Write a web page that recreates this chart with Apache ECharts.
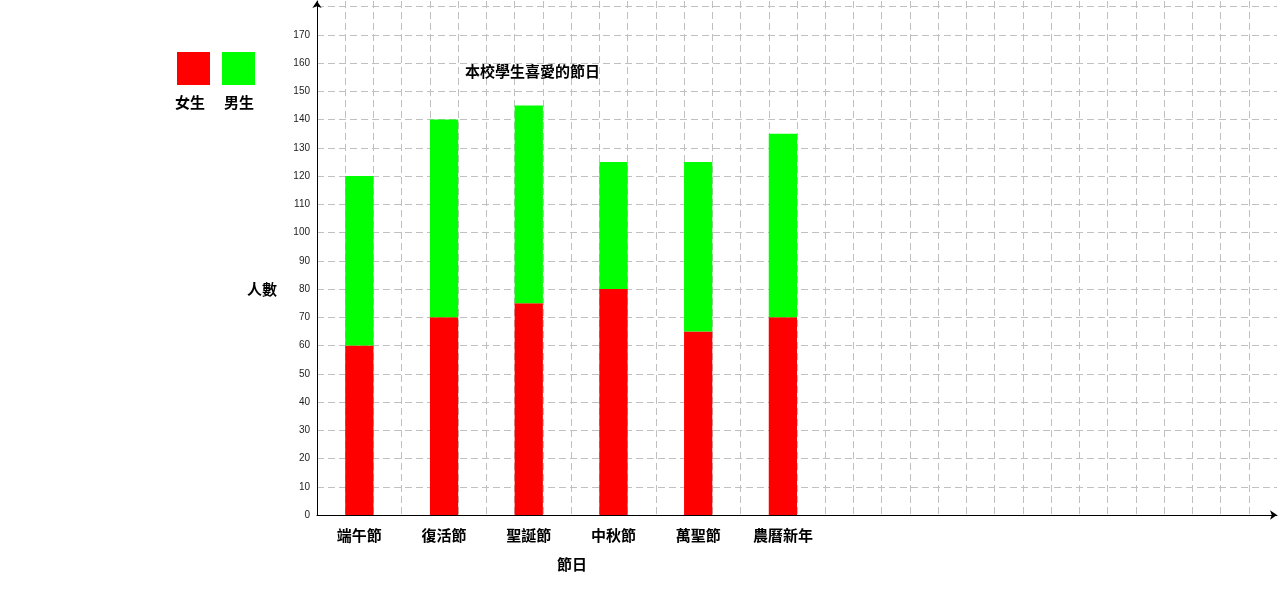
<!DOCTYPE html>
<html><head><meta charset="utf-8">
<script src="https://cdn.jsdelivr.net/npm/echarts@6/dist/echarts.min.js"></script>
<style>html,body{margin:0;padding:0;background:#fff}#c{width:1280px;height:600px}</style>
</head><body><div id="c"></div>
<script>
const festivals = ['端午節', '復活節', '聖誕節', '中秋節', '萬聖節', '農曆新年'];
const girls = [60, 70, 75, 80, 65, 70];
const boys = [60, 70, 70, 45, 60, 65];
const seriesNames = ['女生', '男生'];
const yTicks = [0,10,20,30,40,50,60,70,80,90,100,110,120,130,140,150,160,170];

// 34 grid columns; each festival sits in one column, every third column starting at 1
const slots = 34;
const cats = new Array(slots).fill('');
const gData = new Array(slots).fill('-');
const bData = new Array(slots).fill('-');
festivals.forEach((f, i) => { const k = 1 + 3 * i; cats[k] = f; gData[k] = girls[i]; bData[k] = boys[i]; });

const cjk = '"Noto Sans CJK TC", "Noto Sans CJK SC", sans-serif';
const chart = echarts.init(document.getElementById('c'));
chart.setOption({
  animation: false,
  backgroundColor: '#fff',
  grid: { left: 317, right: 3, top: 1, bottom: 85, containLabel: false },
  title: { text: '本校學生喜愛的節日', left: 465, top: 64, padding: 0,
    textStyle: { fontFamily: cjk, fontSize: 15, fontWeight: 'bold', color: '#000' } },
  legend: { left: 177, top: 52, padding: 0, itemWidth: 33, itemHeight: 33, itemGap: 12, selectedMode: false,
    icon: 'rect', data: seriesNames, formatter: () => '', textStyle: { fontSize: 1 } },
  graphic: [
    { type: 'text', left: 175, top: 95, style: { text: '女生', font: 'bold 15px ' + cjk, fill: '#000' } },
    { type: 'text', left: 224, top: 95, style: { text: '男生', font: 'bold 15px ' + cjk, fill: '#000' } },
    { type: 'text', left: 247, top: 282, style: { text: '人數', font: 'bold 15px ' + cjk, fill: '#000' } },
    { type: 'text', left: 557, top: 557, style: { text: '節日', font: 'bold 15px ' + cjk, fill: '#000' } }
  ],
  xAxis: {
    type: 'category', data: cats, boundaryGap: true,
    axisLine: { lineStyle: { color: '#000', width: 1 }, symbol: ['none', 'arrow'], symbolSize: [7, 7] },
    axisTick: { show: false },
    axisLabel: { interval: 0, margin: 13, fontFamily: cjk, fontSize: 15, fontWeight: 'bold', color: '#000' },
    splitLine: { show: true, interval: 0, showMaxLine: false, lineStyle: { color: '#c0c0c0', type: [7, 4], width: 1 } }
  },
  yAxis: {
    type: 'value', min: 0, max: 182, interval: 10,
    axisLine: { show: true, lineStyle: { color: '#000', width: 1 }, symbol: ['none', 'arrow'], symbolSize: [7, 7] },
    axisTick: { show: false },
    axisLabel: { margin: 7, fontFamily: 'Liberation Sans, Arial, sans-serif', fontSize: 10, color: '#222',
      formatter: v => yTicks.indexOf(v) >= 0 ? String(v) : '' },
    splitLine: { show: true, showMaxLine: false, lineStyle: { color: '#c0c0c0', type: [7, 4], width: 1 } }
  },
  series: [
    { name: seriesNames[0], type: 'bar', stack: 'all', data: gData, barWidth: '100%', itemStyle: { color: '#ff0000' } },
    { name: seriesNames[1], type: 'bar', stack: 'all', data: bData, barWidth: '100%', itemStyle: { color: '#00ff00' } }
  ]
});
</script></body></html>
